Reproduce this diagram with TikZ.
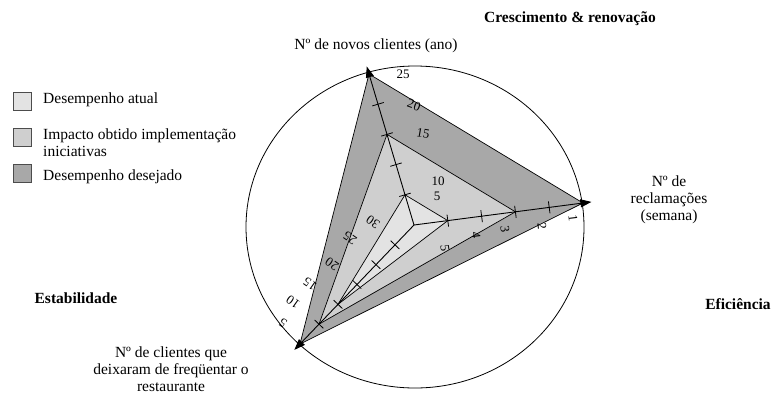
\documentclass[tikz,border=0pt]{standalone}
\usepackage{fontspec}
\setmainfont{Liberation Serif}
\usetikzlibrary{arrows.meta,calc}
\definecolor{atual}{gray}{0.89}
\definecolor{impacto}{gray}{0.81}
\definecolor{desejado}{gray}{0.66}
\tikzset{
  eixo/.style={line width=0.9pt,-{Triangle[length=11pt,width=8pt]}},
  borda/.style={draw=black,line width=0.7pt},
  marca/.style={line width=0.8pt},
  rot/.style={font=\fontsize{15.5}{17}\selectfont,align=center,inner sep=0pt},
  titulo/.style={font=\fontsize{15.5}{17}\selectfont\bfseries,inner sep=0pt},
  esc/.style={font=\fontsize{13}{13}\selectfont,inner sep=0pt},
  caixa/.style={draw=black!70,line width=0.8pt,minimum size=18pt,inner sep=0pt},
}

\begin{document}
\begin{tikzpicture}[x=1pt,y=-1pt]
  \useasboundingbox (0,0) rectangle (773,394);

  % eixos
  \coordinate (o) at (414,225);
  \coordinate (cli) at (369,74);
  \coordinate (rec) at (583,203);
  \coordinate (sai) at (300,344);

  % desempenhos
  \filldraw[borda,fill=desejado] (cli) -- (rec) -- (sai) -- cycle;
  \filldraw[borda,fill=impacto] ($(o)!0.6!(cli)$) -- ($(o)!0.6!(rec)$) -- ($(o)!0.8333!(sai)$) -- cycle;
  \filldraw[borda,fill=atual] ($(o)!0.2!(cli)$) -- ($(o)!0.2!(rec)$) -- ($(o)!0.6667!(sai)$) -- cycle;

  \draw[eixo] (o) -- ($(o)!1.05!(cli)$);
  \draw[eixo] (o) -- ($(o)!1.05!(rec)$);
  \draw[eixo] (o) -- ($(o)!1.05!(sai)$);
  \foreach \f in {0.2,0.4,0.6,0.8} {
    \draw[marca] ($(o)!\f!(cli)!6pt!90:(cli)$) -- ($(o)!\f!(cli)!6pt!-90:(cli)$);
    \draw[marca] ($(o)!\f!(rec)!6pt!90:(rec)$) -- ($(o)!\f!(rec)!6pt!-90:(rec)$);
  }
  \foreach \f in {0.1667,0.3333,0.5,0.6667,0.8333} {
    \draw[marca] ($(o)!\f!(sai)!6pt!90:(sai)$) -- ($(o)!\f!(sai)!6pt!-90:(sai)$);
  }
  \draw[line width=0.8pt] (415,227) ellipse [x radius=169,y radius=161];

  % escalas
  \node[esc] (c25) at (403,74) {25};
  \node[esc,rotate=-20] (c20) at (414,105) {20};
  \node[esc,rotate=-10] (c15) at (423,133) {15};
  \node[esc] (c10) at (438,181) {10};
  \node[esc] (c5) at (437,196) {5};
  \node[esc,rotate=-83] (r1) at (573,218) {1};
  \node[esc,rotate=-83] (r2) at (542,226) {2};
  \node[esc,rotate=-83] (r3) at (505,229) {3};
  \node[esc,rotate=-83] (r4) at (476,235) {4};
  \node[esc,rotate=-83] (r5) at (445,248) {5};
  \node[esc,rotate=145] (s30) at (373,222) {30};
  \node[esc,rotate=145] (s25) at (350,238) {25};
  \node[esc,rotate=145] (s20) at (332,264) {20};
  \node[esc,rotate=145] (s15) at (310,284) {15};
  \node[esc,rotate=145] (s10) at (293,302) {10};
  \node[esc,rotate=145] (s5) at (283,323) {5};

  % textos
  \node[titulo] (tcres) at (570,19) {Crescimento \& renovação};
  \node[rot] (tcli) at (376,46) {Nº de novos clientes (ano)};
  \node[rot] (trec) at (669,200) {Nº de\\reclamações\\(semana)};
  \node[titulo] (tefi) at (738,304) {Eficiência};
  \node[titulo] (test) at (76,298) {Estabilidade};
  \node[rot] (tsai) at (171,369) {Nº de clientes que\\deixaram de freqüentar o\\restaurante};

  % legenda
  \node[caixa,fill=atual] (b1) at (22.5,101.5) {};
  \node[caixa,fill=impacto] (b2) at (22.5,137.5) {};
  \node[caixa,fill=desejado] (b3) at (22.5,173.5) {};
  \node[rot,anchor=west] (l1) at (43,100) {Desempenho atual};
  \node[rot,anchor=west,align=left] (l2) at (43,143) {Impacto obtido implementação\\iniciativas};
  \node[rot,anchor=west] (l3) at (43,177) {Desempenho desejado};
\end{tikzpicture}
\end{document}
